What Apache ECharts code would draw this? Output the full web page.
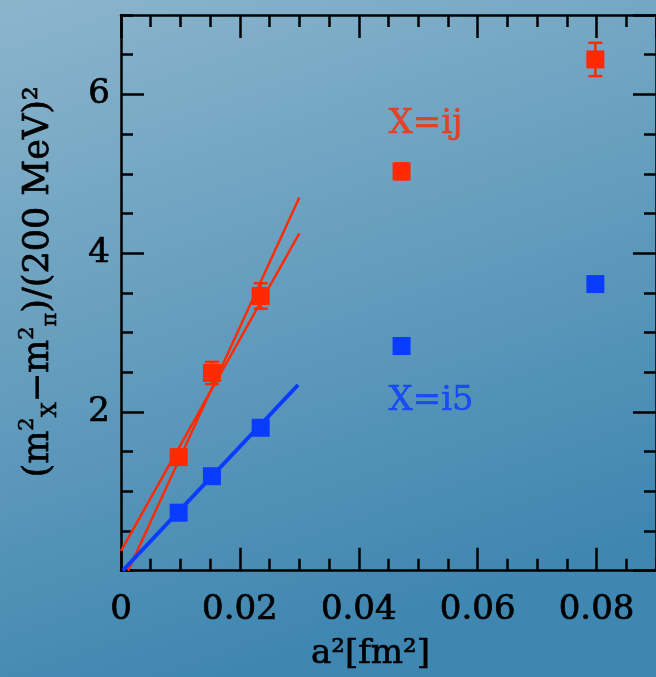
<!DOCTYPE html>
<html>
<head>
<meta charset="UTF-8">
<title>m_X^2 - m_pi^2 vs a^2</title>
<style>
  html, body { margin: 0; padding: 0; }
  #main { width: 656px; height: 677px; }
</style>
</head>
<body>
<div id="main"></div>
<script src="https://cdn.jsdelivr.net/npm/echarts@6/dist/echarts.min.js"></script>
<script>
// data
var aSq = [0.0097, 0.0153, 0.0235, 0.0472, 0.0798];
var ijY = [1.43, 2.49, 3.46, 5.03, 6.44];
var ijErr = [0.08, 0.14, 0.16, 0.10, 0.21];
var i5Y = [0.73, 1.19, 1.80, 2.83, 3.61];
var fitIjA = [[0, 0.25], [0.03, 4.25]];
var fitIjB = [[0.0012, 0], [0.03, 4.70]];
var fitI5 = [[0.0003, 0], [0.0298, 2.34]];
var xTickLabels = ['0', '0.02', '0.04', '0.06', '0.08'];
var yTickLabels = ['2', '4', '6'];
var tagIj = [0.045, 5.62];
var tagI5 = [0.045, 2.14];

var red = '#ff2a00';
var blue = '#0a3cff';
var font = 'DejaVu Serif';

var ijPts = [], i5Pts = [], ijBars = [];
for (var i = 0; i < aSq.length; i++) {
    ijPts.push([aSq[i], ijY[i]]);
    i5Pts.push([aSq[i], i5Y[i]]);
    ijBars.push([aSq[i], ijY[i] - ijErr[i], ijY[i] + ijErr[i]]);
}

function pickLabel(list) {
    return function (v) {
        for (var k = 0; k < list.length; k++) {
            if (Math.abs(parseFloat(list[k]) - v) < 1e-9) return list[k];
        }
        return '';
    };
}

var lineStyle = { color: '#000', width: 2.5 };

function xAx(pos, interval, len, main) {
    return {
        type: 'value', position: pos, min: 0, max: 0.09, interval: interval,
        axisLine: { show: main, onZero: false, lineStyle: lineStyle },
        axisTick: { show: true, inside: true, length: len, lineStyle: { color: '#000', width: 2.5 } },
        axisLabel: { show: false },
        splitLine: { show: false }
    };
}
function yAx(pos, interval, len, main) {
    return {
        type: 'value', position: pos, min: 0, max: 7, interval: interval,
        axisLine: { show: main, onZero: false, lineStyle: lineStyle },
        axisTick: { show: true, inside: true, length: len, lineStyle: { color: '#000', width: 2.5 } },
        axisLabel: { show: false },
        splitLine: { show: false }
    };
}

// slight outline to get the heavier look of the original lettering
var heavy = { textBorderColor: '#000', textBorderWidth: 0.7 };

var xMain = xAx('bottom', 0.02, 23, true);
xMain.axisLabel = Object.assign({
    show: true, margin: 23, color: '#000', fontFamily: font, fontSize: 34,
    showMaxLabel: false, formatter: pickLabel(xTickLabels)
}, heavy);
xMain.name = 'a²[fm²]';
xMain.nameLocation = 'middle';
xMain.nameGap = 67;
xMain.nameTextStyle = Object.assign({ color: '#000', fontFamily: font, fontSize: 34, padding: [0, 36, 0, 0] }, heavy);

var yMain = yAx('left', 2, 23, true);
yMain.axisLabel = Object.assign({
    show: true, margin: 11, color: '#000', fontFamily: font, fontSize: 34,
    showMinLabel: false, showMaxLabel: false, formatter: pickLabel(yTickLabels)
}, heavy);
yMain.name = '(m{sup|2}{sub|X}−m{sup|2}{sub|π})/(200 MeV)²';
yMain.nameLocation = 'middle';
yMain.nameGap = 60;
yMain.nameTextStyle = Object.assign({
    color: '#000', fontFamily: font, fontSize: 35, lineHeight: 44,
    padding: [0, 0, 0, 22],
    rich: {
        sup: { fontFamily: font, fontSize: 21, color: '#000', verticalAlign: 'top', lineHeight: 44, textBorderColor: '#000', textBorderWidth: 0.6 },
        sub: { fontFamily: font, fontSize: 21, color: '#000', verticalAlign: 'bottom', lineHeight: 44, textBorderColor: '#000', textBorderWidth: 0.6 }
    }
}, heavy);

var chart = echarts.init(document.getElementById('main'));
chart.setOption({
    backgroundColor: {
        type: 'linear', x: 0, y: 0, x2: 0.35, y2: 1,
        colorStops: [{ offset: 0, color: '#8cb5cc' }, { offset: 1, color: '#3f86b0' }]
    },
    animation: false,
    grid: { left: 121, top: 15, width: 540, height: 560 },
    xAxis: [xMain, xAx('bottom', 0.005, 12, false), xAx('top', 0.02, 23, true), xAx('top', 0.005, 12, false)],
    yAxis: [yMain, yAx('left', 0.5, 12, false), yAx('right', 2, 23, true), yAx('right', 0.5, 12, false)],
    series: [
        { type: 'line', data: fitIjA, symbol: 'none', lineStyle: { color: red, width: 2.4 }, z: 2 },
        { type: 'line', data: fitIjB, symbol: 'none', lineStyle: { color: red, width: 2.4 }, z: 2 },
        { type: 'line', data: fitI5, symbol: 'none', lineStyle: { color: blue, width: 3.8 }, z: 2 },
        {
            type: 'custom', data: ijBars, z: 3,
            renderItem: function (params, api) {
                var x = api.value(0);
                var lo = api.coord([x, api.value(1)]);
                var hi = api.coord([x, api.value(2)]);
                var st = { stroke: red, lineWidth: 2.5 };
                return {
                    type: 'group', children: [
                        { type: 'line', shape: { x1: lo[0], y1: lo[1], x2: hi[0], y2: hi[1] }, style: st },
                        { type: 'line', shape: { x1: lo[0] - 7, y1: lo[1], x2: lo[0] + 7, y2: lo[1] }, style: st },
                        { type: 'line', shape: { x1: hi[0] - 7, y1: hi[1], x2: hi[0] + 7, y2: hi[1] }, style: st }
                    ]
                };
            }
        },
        { type: 'scatter', data: ijPts, symbol: 'rect', symbolSize: 18, itemStyle: { color: red, opacity: 1 }, z: 4 },
        { type: 'scatter', data: i5Pts, symbol: 'rect', symbolSize: 18, itemStyle: { color: blue, opacity: 1 }, z: 4 },
        {
            type: 'scatter', data: [tagIj], symbolSize: 0, silent: true,
            label: { show: true, position: 'right', distance: 0, formatter: 'X=ij', color: red, fontFamily: font, fontSize: 34, textBorderColor: red, textBorderWidth: 0.5 }
        },
        {
            type: 'scatter', data: [tagI5], symbolSize: 0, silent: true,
            label: { show: true, position: 'right', distance: 0, formatter: 'X=i5', color: blue, fontFamily: font, fontSize: 34, textBorderColor: blue, textBorderWidth: 0.5 }
        }
    ]
});
</script>
</body>
</html>
